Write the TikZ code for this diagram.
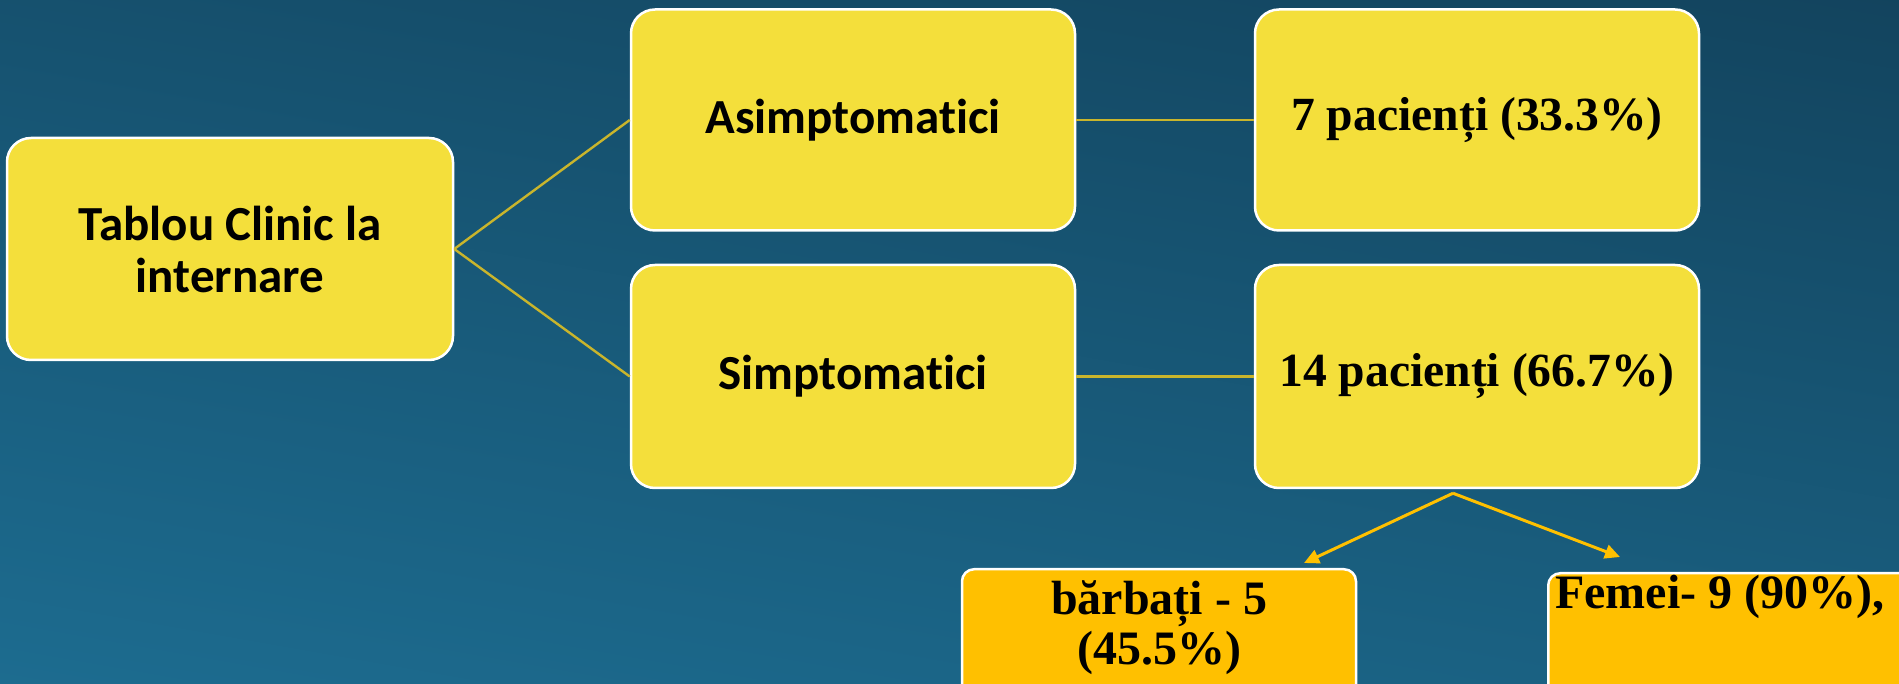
\documentclass[tikz,border=0pt]{standalone}
\usepackage{fontspec}
\setmainfont{Carlito}[Ligatures=NoCommon]
\newfontfamily\tnr{Liberation Serif}
\usetikzlibrary{arrows.meta}
\definecolor{bgtop}{HTML}{113E57}
\definecolor{bgbot}{HTML}{1E7196}
\definecolor{boxy}{HTML}{F4DF3B}
\definecolor{boxo}{HTML}{FFC000}
\definecolor{linec}{HTML}{C9B52C}
\begin{document}
\begin{tikzpicture}[x=1pt,y=1pt,
  ybox/.style={draw=white, line width=2.5pt, fill=boxy, rounded corners=24pt,
    minimum width=444pt, minimum height=221pt, align=center, inner sep=0pt},
  obox/.style={draw=white, line width=2.5pt, fill=boxo, rounded corners=12pt, inner sep=0pt},
  conn/.style={draw=linec, line width=2.4pt},
  arr/.style={draw=boxo, line width=3pt, -{Triangle[length=15pt,width=14pt]}},
  ctext/.style={font=\fontsize{49}{52}\selectfont\bfseries},
  ttext/.style={font=\tnr\fontsize{47.6}{50}\selectfont\bfseries},
  btext/.style={font=\tnr\fontsize{48}{50}\selectfont\bfseries}]
\useasboundingbox (0,0) rectangle (1899,683);
\clip (0,0) rectangle (1899,683);
\shade[top color=bgtop, bottom color=bgbot, shading angle=-10] (-200,-200) rectangle (2100,900);
% main boxes
\node[ybox, ctext, minimum width=446pt, minimum height=222pt] (tab) at (230,434) {Tablou Clinic la\\internare};
\node[ybox, ctext] (asi) at (853,563) {Asimptomatici};
\node[ybox, ctext, minimum height=223pt] (sim) at (853,306.5) {Simptomatici};
\node[ybox, ttext] (p7) at (1477,563) {7 pacienți (33.3\%)};
\node[ybox, ttext, minimum height=223pt] (p14) at (1477,306.5) {14 pacienți (66.7\%)};
% lower boxes
\node[obox, minimum width=394pt, minimum height=140pt, anchor=north] (bar) at (1159,115) {};
\node[btext, align=center, anchor=north, inner sep=0pt] (bart) at ([yshift=-12pt]bar.north) {bărbați - 5\\(45.5\%)};
\node[obox, minimum width=420pt, minimum height=140pt, anchor=north west] (fem) at (1547,111) {};
\node[btext, anchor=base west, inner sep=0pt] (femt) at (1555,74) {Femei- 9 (90\%),};
% connectors
\draw[conn] (tab.east) -- (asi.west);
\draw[conn] (tab.east) -- (sim.west);
\draw[conn] (asi.east) -- (p7.west);
\draw[conn] (sim.east) -- (p14.west);
\coordinate (split) at ([xshift=-24pt,yshift=-4pt]p14.south);
\coordinate (tobar) at (1304,120);
\coordinate (tofem) at (1620,126);
\draw[arr] (split) -- (tobar);
\draw[arr] (split) -- (tofem);
\end{tikzpicture}
\end{document}
